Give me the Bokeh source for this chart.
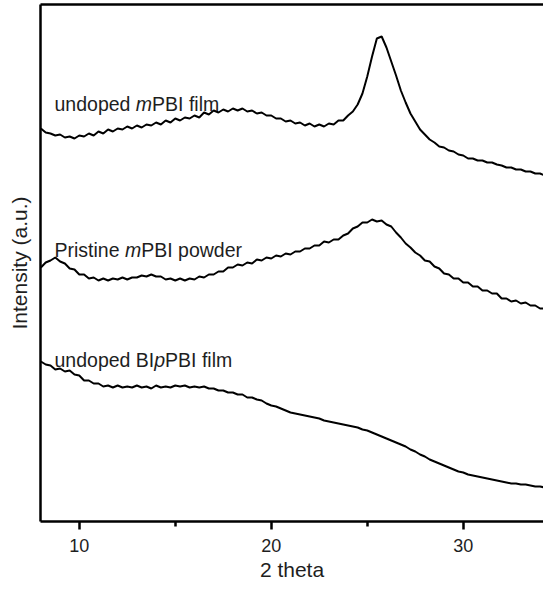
from bokeh.plotting import figure
from bokeh.models import Label, LinearAxis, FixedTicker, Range1d
from bokeh.embed import file_html
from bokeh.resources import INLINE

# 2 theta (degrees)
two_theta = [8.0, 8.25, 8.5, 8.75, 9.0, 9.25, 9.5, 9.75, 10.0, 10.25, 10.5, 10.75,
             11.0, 11.25, 11.5, 11.75, 12.0, 12.25, 12.5, 12.75, 13.0, 13.25, 13.5, 13.75,
             14.0, 14.25, 14.5, 14.75, 15.0, 15.25, 15.5, 15.75, 16.0, 16.25, 16.5, 16.75,
             17.0, 17.25, 17.5, 17.75, 18.0, 18.25, 18.5, 18.75, 19.0, 19.25, 19.5, 19.75,
             20.0, 20.25, 20.5, 20.75, 21.0, 21.25, 21.5, 21.75, 22.0, 22.25, 22.5, 22.75,
             23.0, 23.25, 23.5, 23.75, 24.0, 24.25, 24.5, 24.75, 25.0, 25.25, 25.5, 25.75,
             26.0, 26.25, 26.5, 26.75, 27.0, 27.25, 27.5, 27.75, 28.0, 28.25, 28.5, 28.75,
             29.0, 29.25, 29.5, 29.75, 30.0, 30.25, 30.5, 30.75, 31.0, 31.25, 31.5, 31.75,
             32.0, 32.25, 32.5, 32.75, 33.0, 33.25, 33.5, 33.75, 34.0, 34.25, 34.5]

# undoped mPBI film (offset)
film_mpbi = [393, 389, 388, 386, 387, 384, 385, 383, 386, 385, 388, 386,
             390, 388, 392, 390, 393, 392, 395, 393, 396, 394, 397, 396,
             399, 397, 401, 399, 403, 401, 404, 403, 406, 404, 409, 407,
             411, 409, 412, 410, 413, 411, 413, 410, 411, 408, 409, 406,
             406, 403, 403, 400, 401, 398, 399, 396, 398, 395, 397, 395,
             398, 397, 401, 401, 406, 410, 417, 428, 445, 465, 483, 485,
             474, 460, 446, 431, 419, 408, 400, 392, 387, 382, 379, 375,
             374, 371, 370, 367, 366, 363, 363, 361, 361, 359, 359, 357,
             356, 354, 354, 352, 352, 350, 350, 348, 348, 346, 346]

# Pristine mPBI powder (offset)
powder_mpbi = [254, 259, 261, 264, 260, 258, 253, 252, 247, 247, 243, 244,
               241, 243, 241, 243, 242, 244, 242, 244, 244, 246, 245, 247,
               245, 245, 242, 243, 241, 243, 241, 243, 242, 245, 244, 247,
               247, 250, 250, 254, 254, 257, 256, 259, 258, 262, 261, 264,
               263, 266, 265, 268, 267, 270, 270, 273, 273, 276, 276, 280,
               279, 282, 282, 286, 288, 293, 295, 299, 299, 302, 300, 301,
               297, 295, 289, 284, 278, 274, 269, 266, 261, 260, 255, 253,
               248, 247, 243, 243, 239, 239, 235, 235, 231, 231, 228, 228,
               223, 223, 220, 221, 218, 219, 216, 216, 213, 213, 211]

# undoped BIpPBI film
film_bippbi = [160, 157, 156, 152, 153, 150, 151, 147, 146, 141, 141, 138,
               138, 135, 136, 134, 136, 134, 135, 134, 136, 134, 135, 133,
               136, 134, 135, 134, 136, 135, 136, 134, 135, 134, 135, 133,
               133, 131, 131, 129, 129, 127, 127, 124, 124, 122, 121, 118,
               116, 115, 113, 111, 109, 108, 107, 106, 105, 104, 103, 101,
               100, 99, 98, 97, 96, 95, 94, 92, 91, 89, 87, 85,
               83, 81, 79, 77, 75, 72, 70, 67, 65, 62, 60, 58,
               56, 54, 52, 50, 49, 47, 46, 45, 44, 43, 42, 41,
               40, 39, 38, 38, 37, 37, 36, 35, 35, 34, 33]

x_ticks = [10, 20, 30]
x_minor_ticks = [15, 25]

FONT = "Liberation Sans"
TXT = "#1e1e1e"

p = figure(width=543, height=587,
           x_range=Range1d(7.98, 34.18), y_range=Range1d(0, 517),
           output_backend="svg", toolbar_location=None,
           min_border_left=40, min_border_right=0,
           min_border_top=4, min_border_bottom=66)
p.outline_line_color = None
p.grid.visible = False
p.background_fill_color = "white"
p.border_fill_color = "white"

for series in (film_mpbi, powder_mpbi, film_bippbi):
    p.line(two_theta, series, line_color="black", line_width=2.0)

# x axis
xa = p.xaxis[0]
xa.ticker = FixedTicker(ticks=x_ticks, minor_ticks=x_minor_ticks)
xa.axis_line_width = 2.5
xa.major_tick_line_width = 2.5
xa.minor_tick_line_width = 2.5
xa.major_tick_in = 0
xa.major_tick_out = 8
xa.minor_tick_in = 0
xa.minor_tick_out = 5
xa.major_label_text_font = FONT
xa.major_label_text_font_size = "18px"
xa.major_label_text_color = TXT
xa.major_label_standoff = 9
xa.axis_label = "2 theta"
xa.axis_label_text_font = FONT
xa.axis_label_text_font_size = "21px"
xa.axis_label_text_font_style = "normal"
xa.axis_label_text_color = TXT
xa.axis_label_standoff = 3

# y axis
ya = p.yaxis[0]
ya.ticker = FixedTicker(ticks=[])
ya.axis_line_width = 2.5
ya.major_tick_line_color = None
ya.minor_tick_line_color = None
ya.axis_label = "Intensity (a.u.)"
ya.axis_label_text_font = FONT
ya.axis_label_text_font_size = "21px"
ya.axis_label_text_font_style = "normal"
ya.axis_label_text_color = TXT
ya.axis_label_standoff = 10

# top border
top = LinearAxis(ticker=FixedTicker(ticks=[]), axis_line_width=2.5,
                 major_tick_line_color=None, minor_tick_line_color=None,
                 major_label_text_font_size="0px")
p.add_layout(top, "above")

# curve labels (with italic prefix letters)
LX = 8.71
FS = 19.5
def seg(text, y, off_em, italic=False):
    p.add_layout(Label(x=LX, y=y, x_offset=off_em * FS, text=text,
                       text_font=FONT, text_font_size=f"{FS}px",
                       text_font_style="italic" if italic else "normal",
                       text_color=TXT, text_baseline="alphabetic",
                       text_align="left"))

seg("undoped ", 418, 0)
seg("m", 418, 4.170, True)
seg("PBI film", 418, 5.003)

seg("Pristine ", 272, 0)
seg("m", 272, 3.612, True)
seg("PBI powder", 272, 4.445)

seg("undoped BI", 162, 0)
seg("p", 162, 5.115, True)
seg("PBI film", 162, 5.671)

open("out.html", "w").write(file_html(p, INLINE))
